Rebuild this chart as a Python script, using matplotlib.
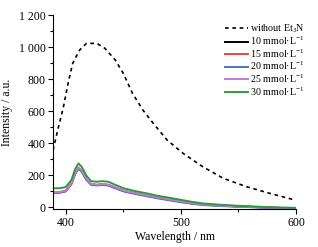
import numpy as np
import matplotlib.pyplot as plt
from matplotlib.ticker import MultipleLocator

plt.rcParams['font.family'] = ['Liberation Serif', 'DejaVu Serif']
plt.rcParams['font.size'] = 8.5
plt.rcParams['mathtext.fontset'] = 'custom'
plt.rcParams['mathtext.rm'] = 'Liberation Serif'
plt.rcParams['mathtext.it'] = 'Liberation Serif:italic'

# curva sin Et3N
wl_ref = [389, 393, 398, 402, 406, 412, 418, 427, 434, 443, 450, 458, 467, 476,
          488, 502, 519, 537, 557, 577, 599]
i_ref = [356, 481, 627, 773, 898, 981, 1023, 1023, 992, 919, 835, 710, 606, 523,
         419, 335, 252, 179, 127, 86, 44]

# curvas con Et3N
wl = [389, 395, 400, 405, 408, 411, 414, 418, 422, 427, 432, 437, 442, 450, 460,
      470, 480, 490, 500, 510, 520, 535, 550, 565, 580, 600]
i10 = [88, 92, 100, 147, 208, 242, 222, 171, 142, 138, 142, 138, 124, 102, 86,
       72, 58, 46, 35, 23, 15, 9, 4, 0, -4, -8]
i15 = [90, 93, 100, 148, 210, 244, 224, 172, 142, 137, 141, 137, 123, 101, 85,
       71, 57, 45, 34, 22, 14, 8, 3, -1, -5, -9]
i20 = [86, 90, 98, 145, 206, 240, 220, 170, 140, 135, 138, 134, 120, 98, 82,
       68, 54, 42, 30, 20, 12, 6, 2, -2, -6, -10]
i25 = [92, 95, 102, 150, 212, 248, 228, 175, 145, 140, 144, 140, 126, 104, 88,
       74, 60, 48, 36, 24, 16, 9, 4, 0, -4, -8]
i30 = [117, 118, 125, 170, 235, 273, 250, 195, 162, 158, 162, 158, 142, 118, 100,
       86, 70, 58, 45, 32, 22, 14, 8, 3, -2, -5]

labels = ['10 mmol·L$^{-1}$', '15 mmol·L$^{-1}$', '20 mmol·L$^{-1}$',
          '25 mmol·L$^{-1}$', '30 mmol·L$^{-1}$']
colores = ['black', '#e8443c', '#4a74c8', '#c87ac8', '#2e9a3e']

fig = plt.figure(figsize=(3.18, 2.47), dpi=100)
ax = fig.add_axes([0.167, 0.154, 0.764, 0.785])

ax.plot(wl_ref, i_ref, color='black', lw=1.2, dashes=(2.2, 2.2), label='without Et$_3$N')
for y, c, lab in zip([i10, i15, i20, i25, i30], colores, labels):
    ax.plot(wl, y, color=c, lw=1.4, label=lab)

ax.set_xlim(389, 600)
ax.set_ylim(-12, 1200)
ax.set_xticks([400, 500, 600])
ax.xaxis.set_minor_locator(MultipleLocator(50))
ax.set_yticks([0, 200, 400, 600, 800, 1000, 1200])
ax.set_yticklabels(['0', '200', '400', '600', '800', '1 000', '1 200'])
ax.yaxis.set_minor_locator(MultipleLocator(100))
ax.tick_params(which='major', direction='out', length=3.5, width=0.8, pad=2)
ax.tick_params(which='minor', direction='out', length=2, width=0.8)
ax.spines['top'].set_visible(False)
ax.spines['right'].set_visible(False)

ax.set_xlabel('Wavelength / nm', labelpad=2)
ax.set_ylabel('Intensity / a.u.')
ax.yaxis.set_label_coords(-0.165, 0.5)

ax.legend(loc='upper right', bbox_to_anchor=(1.065, 1.0), frameon=False,
          handlelength=2.3, handletextpad=0.2, labelspacing=0.02, fontsize=7.2,
          borderaxespad=0.3)

fig.savefig('out.png', dpi=100)
